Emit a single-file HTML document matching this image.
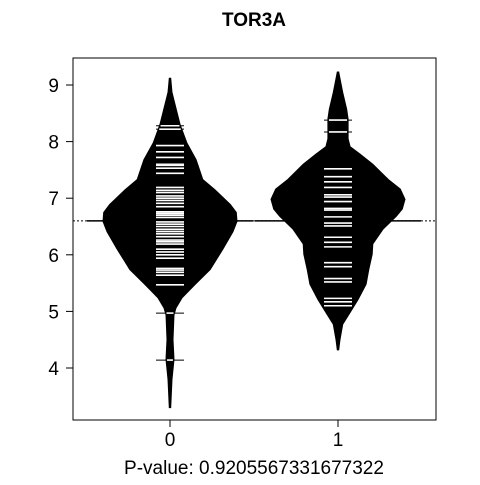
<!DOCTYPE html>
<html><head><meta charset="utf-8"><style>
body{margin:0;background:#fff}
svg text{font-family:"Liberation Sans",Arial,sans-serif}
</style></head><body>
<svg id="c" width="480" height="480"></svg>
<script>
const groups = ["0","1"];
const yTicks = [4,5,6,7,8,9];
const overallMean = 6.6;
const groupMeans = [6.6, 6.6];
// density profiles: value levels and relative density (max 1)
const dens0V = [9.12,8.87,8.3,7.98,7.68,7.33,7.15,6.89,6.75,6.59,6.41,6.1,5.74,5.47,5.24,5.06,4.94,4.5,4.15,3.8,3.3];
const dens0D = [0.01,0.03,0.15,0.25,0.39,0.49,0.67,0.90,0.99,1.0,0.94,0.79,0.60,0.37,0.18,0.09,0.06,0.045,0.06,0.03,0.01];
const dens1V = [9.23,8.87,8.57,8.4,8.05,7.91,7.78,7.6,7.33,7.16,6.98,6.81,6.68,6.45,6.19,6.01,5.74,5.48,5.21,4.98,4.77,4.5,4.32];
const dens1D = [0.01,0.07,0.13,0.15,0.15,0.18,0.33,0.52,0.75,0.93,1.0,0.96,0.87,0.67,0.52,0.51,0.46,0.42,0.30,0.18,0.07,0.03,0.01];
const beans0 = [8.28,8.22,7.93,7.82,7.72,7.60,7.58,7.53,7.44,7.19,7.14,7.10,7.04,7.00,6.96,6.91,6.85,6.76,6.73,6.70,6.66,6.58,6.54,6.50,6.45,6.41,6.37,6.32,6.26,6.23,6.19,6.10,6.05,6.00,5.94,5.76,5.73,5.69,5.64,5.47,4.97,4.14];
const beans1 = [8.38,8.17,7.52,7.38,7.29,7.19,7.06,7.02,6.94,6.82,6.79,6.67,6.56,6.51,6.31,6.22,6.14,5.86,5.79,5.58,5.52,5.23,5.17,5.10];

const NS="http://www.w3.org/2000/svg";
const svg=document.getElementById('c');
const L=73,R=436,T=58,B=420;
const xS=i=>170+i*168;
const yS=v=>85+(9-v)*56.6;
const MAXW=67;
function mk(tag,attrs,parent){const e=document.createElementNS(NS,tag);for(const k in attrs)e.setAttribute(k,attrs[k]);(parent||svg).appendChild(e);return e;}
function halfW(V,D,v){if(v>=V[0]||v<=V[V.length-1])return 0;for(let i=0;i<V.length-1;i++){if(v<=V[i]&&v>=V[i+1]){const t=(V[i]-v)/(V[i]-V[i+1]);return (D[i]+(D[i+1]-D[i])*t)*MAXW;}}return 0;}

let e=mk('line',{x1:L,x2:R,y1:yS(overallMean),y2:yS(overallMean),stroke:'#000','stroke-width':1,'stroke-dasharray':'2,2'});



const dens=[[dens0V,dens0D],[dens1V,dens1D]];
const beans=[beans0,beans1];
groups.forEach((g,gi)=>{
  const [V,D]=dens[gi];const cx=xS(gi);
  let pts=[];
  V.forEach((v,i)=>pts.push((cx+D[i]*MAXW).toFixed(1)+','+yS(v).toFixed(1)));
  for(let i=V.length-1;i>=0;i--)pts.push((cx-D[i]*MAXW).toFixed(1)+','+yS(V[i]).toFixed(1));
  const p=mk('polygon',{points:pts.join(' '),fill:'#000',stroke:'#000','stroke-width':1});
  
  
  const ml=mk('line',{x1:cx-83,x2:cx+83,y1:yS(groupMeans[gi]),y2:yS(groupMeans[gi]),stroke:'#000','stroke-width':1.5});
  
  
  beans[gi].forEach(v=>{
    const y=yS(v);
    const bl=mk('line',{x1:cx-14,x2:cx+14,y1:y,y2:y,stroke:'#000','stroke-width':1});
    
    
    const w=Math.min(14,halfW(V,D,v)-1);
    if(w>0){
      const wl=mk('line',{x1:cx-w,x2:cx+w,y1:y,y2:y,stroke:'#fff','stroke-width':1.6});
      
      
    }
  });
});

e=mk('rect',{x:L,y:T,width:R-L,height:B-T,fill:'none',stroke:'#000','stroke-width':1});


yTicks.forEach(t=>{
  const y=yS(t);
  const tl=mk('line',{x1:L-7,x2:L,y1:y,y2:y,stroke:'#000'});
  
  
  const tx=mk('text',{x:L-14,y:y+7,'text-anchor':'end','font-size':19});
  tx.textContent=t;
  
  
});
groups.forEach((g,gi)=>{
  const x=xS(gi);
  const tl=mk('line',{x1:x,x2:x,y1:B,y2:B+7,stroke:'#000'});
  
  
  const tx=mk('text',{x:x,y:B+26,'text-anchor':'middle','font-size':19});
  tx.textContent=g;
  
  
});
e=mk('text',{x:254,y:26,'text-anchor':'middle','font-size':19,'font-weight':'bold'});
e.textContent='TOR3A';


e=mk('text',{x:254,y:474,'text-anchor':'middle','font-size':19});
e.textContent='P-value: 0.9205567331677322';


</script>
</body></html>
